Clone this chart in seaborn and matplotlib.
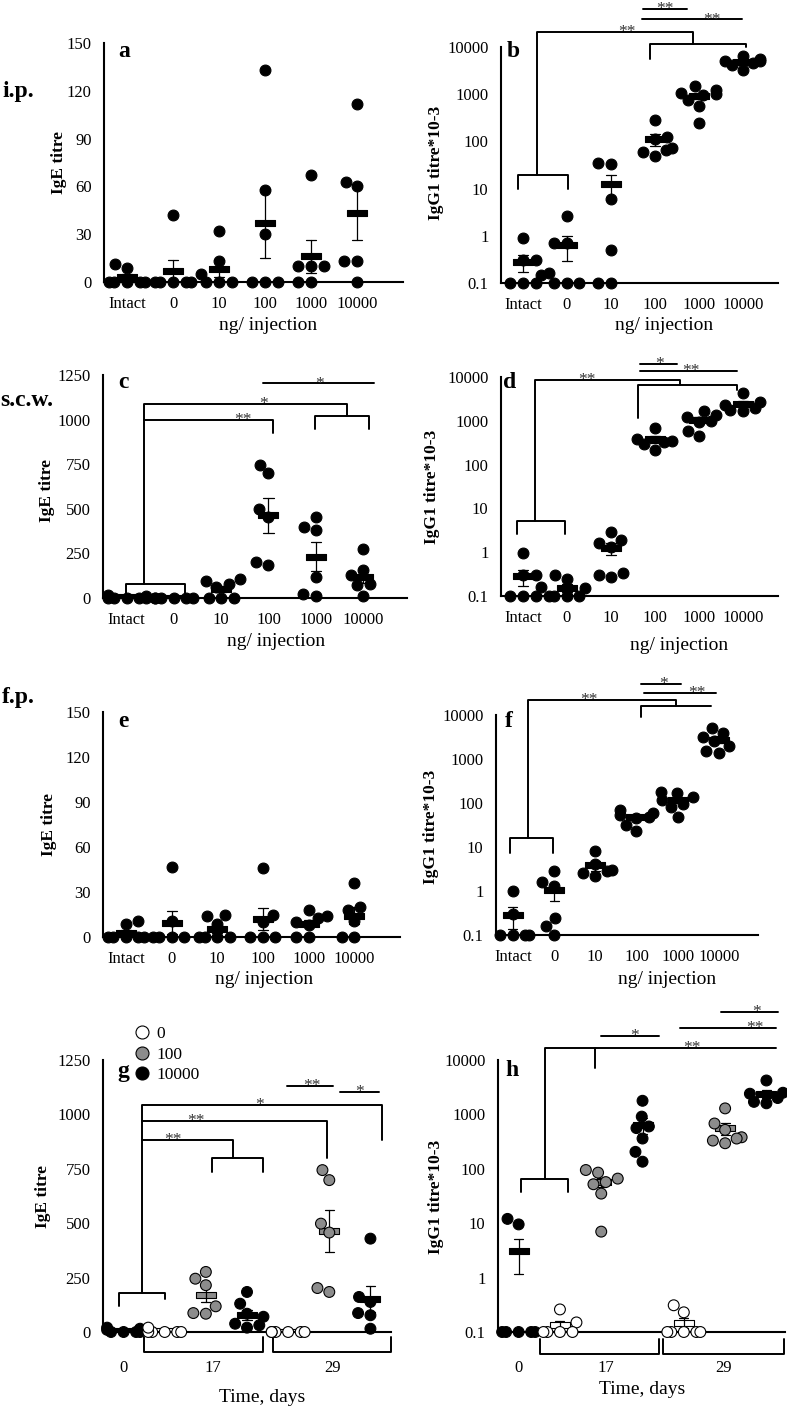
import matplotlib
matplotlib.use("Agg")
import numpy as np
import pandas as pd
import matplotlib.pyplot as plt
from matplotlib.path import Path
import seaborn as sns


# ---- data ----
doses = ["Intact", "0", "10", "100", "1000", "10000"]

# IgE titre, one list per dose group
ip_ige = [[0, 0, 0, 0, 0, 9, 11], [0, 0, 0, 0, 0, 42], [0, 0, 0, 32, 13, 5],
          [133, 58, 30, 0, 0, 0], [67, 10, 10, 10, 0, 0], [112, 63, 60, 13, 13, 0]]
scw_ige = [[0, 0, 0, 0, 0, 12, 15], [0, 0, 0, 0, 0, 0], [108, 95, 80, 62, 0, 0, 0],
           [745, 698, 501, 455, 202, 183], [455, 399, 380, 118, 24, 11],
           [277, 155, 127, 80, 71, 11]]
fp_ige = [[0, 0, 0, 0, 0, 9, 11], [0, 0, 0, 0, 47, 11], [15, 14, 9, 0, 0, 0, 0],
          [46, 15, 10, 0, 0, 0], [18, 14, 13, 10, 8, 0, 0], [36, 20, 18, 11, 0, 0]]

# IgG1 titre*10-3 (values at the 0.1 floor are below detection)
ip_igg = [[0.9, 0.3, 0.3, 0.15, 0.1, 0.1, 0.1], [2.6, 0.7, 0.7, 0.16, 0.1, 0.1, 0.1],
          [35, 34, 6, 0.5, 0.1, 0.1], [290, 125, 110, 72, 65, 60, 48],
          [1500, 1250, 1050, 1000, 950, 750, 550, 250],
          [6500, 5500, 5000, 5000, 4500, 4200, 3200]]
scw_igg = [[0.95, 0.3, 0.3, 0.16, 0.1, 0.1, 0.1], [0.3, 0.24, 0.15, 0.1, 0.1, 0.1, 0.1],
           [2.9, 1.9, 1.6, 1.3, 0.33, 0.3, 0.27], [700, 380, 350, 330, 300, 220],
           [1700, 1350, 1200, 1000, 950, 600, 440], [4300, 2700, 2300, 2000, 1800, 1700]]
fp_igg = [[1.0, 0.3, 0.1, 0.1, 0.1, 0.1], [2.8, 1.6, 1.3, 0.24, 0.16, 0.1],
          [8, 4.2, 3, 2.9, 2.5, 2.2], [70, 58, 52, 48, 45, 32, 23],
          [180, 165, 140, 120, 95, 80, 47], [5000, 3800, 3200, 2500, 2000, 1500, 1400]]

# time course: day 0, then doses 0 / 100 / 10000 on day 17 and day 29
slots = ["d0", "d17 0", "d17 100", "d17 10000", "d29 0", "d29 100", "d29 10000"]
slot_dose = ["10000", "0", "100", "10000", "0", "100", "10000"]
dose_levels = ["0", "100", "10000"]
days = ["0", "17", "29"]
time_ige = [[0, 0, 0, 0, 10, 15, 20], [0, 0, 0, 0, 0, 20], [245, 276, 215, 118, 87, 84],
            [184, 130, 84, 70, 38, 31, 20], [0, 0, 0, 0, 0, 0],
            [744, 698, 498, 457, 202, 184], [429, 161, 138, 87, 77, 15]]
time_igg = [[12, 9.5, 0.1, 0.1, 0.1, 0.1, 0.1], [0.26, 0.15, 0.1, 0.1, 0.1, 0.1],
            [95, 85, 66, 57, 52, 35, 7], [1780, 910, 600, 560, 360, 205, 135],
            [0.31, 0.23, 0.1, 0.1, 0.1, 0.1, 0.1], [1290, 680, 520, 380, 360, 330, 295],
            [4200, 2500, 2400, 2000, 1700, 1600]]

# significance brackets: polylines (x in category units, y in axes fraction) and stars
sig = {
    "b": ([[(-0.11, 0.40), (-0.11, 0.456), (1.03, 0.456), (1.03, 0.40)],
           [(0.33, 0.456), (0.33, 1.064), (3.87, 1.064), (3.87, 1.014)],
           [(2.89, 0.95), (2.89, 1.014), (5.08, 1.014), (5.08, 1.0)],
           [(2.70, 1.117), (4.97, 1.117)],
           [(2.73, 1.16), (3.72, 1.16)]],
          [(2.36, 1.064, "**"), (4.29, 1.117, "**"), (3.23, 1.16, "**")]),
    "c": ([[(-0.01, 0.02), (-0.01, 0.064), (1.23, 0.064), (1.23, 0.02)],
           [(0.36, 0.064), (0.36, 0.87), (4.67, 0.87), (4.67, 0.816)],
           [(0.36, 0.80), (3.09, 0.80), (3.09, 0.738)],
           [(3.98, 0.756), (3.98, 0.816), (5.13, 0.816), (5.13, 0.756)],
           [(2.89, 0.962), (5.23, 0.962)]],
          [(2.89, 0.87, "*"), (2.46, 0.80, "**"), (4.07, 0.962, "*")]),
    "d": ([[(-0.14, 0.283), (-0.14, 0.343), (0.95, 0.343), (0.95, 0.283)],
           [(0.27, 0.343), (0.27, 0.988), (3.57, 0.988), (3.57, 0.962)],
           [(2.62, 0.815), (2.62, 0.962), (4.86, 0.962), (4.86, 0.94)],
           [(2.67, 1.027), (4.86, 1.027)],
           [(2.67, 1.061), (3.51, 1.061)]],
          [(1.45, 0.988, "**"), (3.83, 1.027, "**"), (3.11, 1.061, "*")]),
    "f": ([[(-0.07, 0.374), (-0.07, 0.44), (0.98, 0.44), (0.98, 0.374)],
           [(0.37, 0.44), (0.37, 1.068), (3.96, 1.068), (3.96, 1.041)],
           [(3.12, 0.989), (3.12, 1.041), (4.8, 1.041)],
           [(3.18, 1.10), (4.94, 1.10)],
           [(3.12, 1.141), (4.09, 1.141)]],
          [(1.85, 1.068, "**"), (4.46, 1.10, "**"), (3.65, 1.141, "*")]),
    "g": ([[(-0.11, 0.094), (-0.11, 0.144), (1.0, 0.144), (1.0, 0.123)],
           [(0.45, 0.144), (0.45, 0.834), (6.28, 0.834), (6.28, 0.706)],
           [(0.45, 0.775), (4.94, 0.775), (4.94, 0.64)],
           [(0.45, 0.706), (2.67, 0.706), (2.67, 0.64)],
           [(2.16, 0.589), (2.16, 0.64), (3.38, 0.64), (3.38, 0.589)],
           [(3.97, 0.905), (5.1, 0.905)],
           [(5.27, 0.882), (6.2, 0.882)],
           [(0.49, -0.018), (0.49, -0.074), (3.40, -0.074), (3.40, -0.018)],
           [(3.63, -0.018), (3.63, -0.074), (6.5, -0.074), (6.5, -0.018)]],
          [(3.3, 0.834, "*"), (1.77, 0.775, "**"), (1.19, 0.706, "**"),
           (4.58, 0.905, "**"), (5.73, 0.882, "*")]),
    "h": ([[(0.065, 0.515), (0.065, 0.561), (1.2, 0.561), (1.2, 0.515)],
           [(0.65, 0.561), (0.65, 1.043), (6.24, 1.043)],
           [(1.85, 1.043), (1.85, 0.969)],
           [(2.0, 1.088), (3.4, 1.088)],
           [(3.9, 1.117), (6.22, 1.117)],
           [(4.9, 1.178), (6.28, 1.178)],
           [(0.51, -0.025), (0.51, -0.08), (3.4, -0.08), (3.4, -0.025)],
           [(3.5, -0.025), (3.5, -0.08), (6.42, -0.08), (6.42, -0.025)]],
          [(4.19, 1.043, "**"), (2.8, 1.088, "*"), (5.73, 1.117, "**"), (5.75, 1.178, "*")]),
}


def long_df(groups, labels, hue=None):
    rows = []
    for i, (lab, vals) in enumerate(zip(labels, groups)):
        for v in vals:
            rows.append({"grp": lab, "val": v, "dose": hue[i] if hue else lab})
    return pd.DataFrame(rows)


sns.set_theme(style="white", rc={"axes.edgecolor": "black", "text.color": "black",
                                 "axes.labelcolor": "black", "xtick.color": "black",
                                 "ytick.color": "black"})
plt.rcParams["font.family"] = ["Liberation Serif", "DejaVu Serif"]

W, H = 787, 1409
fig = plt.figure(figsize=(W / 100, H / 100), dpi=100)


def add(l, t, r, b):
    return fig.add_axes([l / W, 1 - b / H, (r - l) / W, (b - t) / H])


pal = {"0": "white", "100": "#8c8c8c", "10000": "black"}
bar = Path([(-1, -0.3), (1, -0.3), (1, 0.3), (-1, 0.3), (-1, -0.3)],
           [Path.MOVETO, Path.LINETO, Path.LINETO, Path.LINETO, Path.CLOSEPOLY])


def dot_panel(ax, df, order, log, hue=False, legend=False):
    if hue:
        kw = dict(hue="dose", hue_order=dose_levels, palette=pal)
    else:
        kw = dict(color="black")
    sns.swarmplot(data=df, x="grp", y="val", order=order, size=7.8, linewidth=0.8,
                  edgecolor="black", clip_on=False, warn_thresh=1, ax=ax,
                  legend=legend, **kw)
    sns.pointplot(data=df, x="grp", y="val", order=order, errorbar="se", capsize=0.22,
                  marker=bar, markersize=15, markeredgewidth=0.8, markeredgecolor="black",
                  linestyle="none", legend=False, ax=ax,
                  err_kws={"color": "black", "linewidth": 0.9, "linestyle": "-"}, **kw)
    if log:
        ax.set_yscale("log")
        ax.set_ylim(0.1, 10000)
        ticks = [0.1, 1, 10, 100, 1000, 10000]
        ax.set_yticks(ticks, ["0.1", "1", "10", "100", "1000", "10000"])
        ax.yaxis.set_minor_locator(matplotlib.ticker.NullLocator())
    sns.despine(ax=ax)
    for s in ("left", "bottom"):
        ax.spines[s].set_linewidth(1.5)
    ax.tick_params(length=0, labelsize=12)
    ax.tick_params(axis="y", pad=9)
    ax.tick_params(axis="x", pad=10)
    ax.set_xlabel("")
    ax.set_ylabel("")


def brackets(ax, key):
    lines, stars = sig[key]
    tr = ax.get_xaxis_transform()
    for pts in lines:
        xs, ys = zip(*pts)
        ax.plot(xs, ys, color="black", lw=1.4, transform=tr, clip_on=False)
    for x, y, s in stars:
        ax.annotate(s, (x, y), xycoords=tr, xytext=(0, -3), textcoords="offset points",
                    ha="center", va="baseline", fontsize=12.5, color="#333333",
                    annotation_clip=False)


def labels(ax, xl, xpos, yl, ypos):
    ax.set_xlabel(xl, fontsize=14)
    ax.xaxis.set_label_coords(xpos[0] / W, 1 - xpos[1] / H, transform=fig.transFigure)
    ax.xaxis.label.set_va("center")
    ax.set_ylabel(yl, fontsize=12.5, fontweight="bold")
    ax.yaxis.set_label_coords(ypos[0] / W, 1 - ypos[1] / H, transform=fig.transFigure)
    ax.yaxis.label.set_va("center")


ige_lab, igg_lab, ng_lab = "IgE titre", "IgG1 titre*10-3", "ng/ injection"

# row 1: i.p.
ax = add(104, 43, 403, 282)
dot_panel(ax, long_df(ip_ige, doses), doses, False)
ax.set_ylim(0, 150)
ax.set_yticks([0, 30, 60, 90, 120, 150])
ax.set_xlim(-0.5, 6.0)
labels(ax, ng_lab, (268, 326), ige_lab, (59, 163))

ax = add(501, 47, 778, 283)
dot_panel(ax, long_df(ip_igg, doses), doses, True)
ax.set_xlim(-0.5, 5.8)
brackets(ax, "b")
labels(ax, ng_lab, (664, 326), igg_lab, (436, 163))

# row 2: s.c.w.
ax = add(103, 375, 407, 598)
dot_panel(ax, long_df(scw_ige, doses), doses, False)
ax.set_ylim(0, 1250)
ax.set_yticks([0, 250, 500, 750, 1000, 1250])
ax.set_xlim(-0.5, 5.93)
brackets(ax, "c")
labels(ax, ng_lab, (276, 642), ige_lab, (47, 490))

ax = add(501, 377, 778, 596)
dot_panel(ax, long_df(scw_igg, doses), doses, True)
ax.set_xlim(-0.5, 5.8)
brackets(ax, "d")
labels(ax, ng_lab, (679, 645), igg_lab, (432, 487))

# row 3: f.p.
ax = add(103, 712, 400, 937)
dot_panel(ax, long_df(fp_ige, doses), doses, False)
ax.set_ylim(0, 150)
ax.set_yticks([0, 30, 60, 90, 120, 150])
ax.set_xlim(-0.5, 6.0)
labels(ax, ng_lab, (264, 980), ige_lab, (49, 825))

ax = add(496, 715, 758, 935)
dot_panel(ax, long_df(fp_igg, doses), doses, True)
ax.set_xlim(-0.41, 5.95)
brackets(ax, "f")
labels(ax, ng_lab, (667, 980), igg_lab, (431, 827))

# row 4: time course
ax = add(103, 1060, 391, 1332)
dot_panel(ax, long_df(time_ige, slots, slot_dose), slots, False, hue=True, legend=True)
ax.set_ylim(0, 1250)
ax.set_yticks([0, 250, 500, 750, 1000, 1250])
ax.set_xlim(-0.5, 6.5)
ax.set_xticks([0, 2.17, 5.07], days)
ax.tick_params(axis="x", pad=20)
brackets(ax, "g")
labels(ax, "Time, days", (262, 1397), ige_lab, (43, 1197))
sns.move_legend(ax, "upper left", bbox_to_anchor=(0.104, 1.125), frameon=False, title=None,
                fontsize=12.5, handletextpad=0.35, labelspacing=0.25, borderpad=0,
                borderaxespad=0, handlelength=1.0, markerscale=1.2)

ax = add(498, 1060, 785, 1332)
dot_panel(ax, long_df(time_igg, slots, slot_dose), slots, True, hue=True)
ax.set_xlim(-0.5, 6.45)
ax.set_xticks([0, 2.11, 4.96], days)
ax.tick_params(axis="x", pad=20)
brackets(ax, "h")
labels(ax, "Time, days", (642, 1390), igg_lab, (436, 1197))

# panel letters and route labels
for s, x, y in [("a", 118, 57), ("b", 507, 57), ("c", 118, 388), ("d", 503, 388),
                ("e", 118, 727), ("f", 505, 727), ("g", 117, 1077), ("h", 505, 1076)]:
    fig.text(x / W, 1 - y / H, s, fontsize=17, fontweight="bold", va="baseline")
for s, x, y in [("i.p.", 2, 97), ("s.c.w.", 0, 406), ("f.p.", 2, 703)]:
    fig.text(x / W, 1 - y / H, s, fontsize=17, fontweight="bold", va="baseline")

fig.savefig("out.png", dpi=100)
